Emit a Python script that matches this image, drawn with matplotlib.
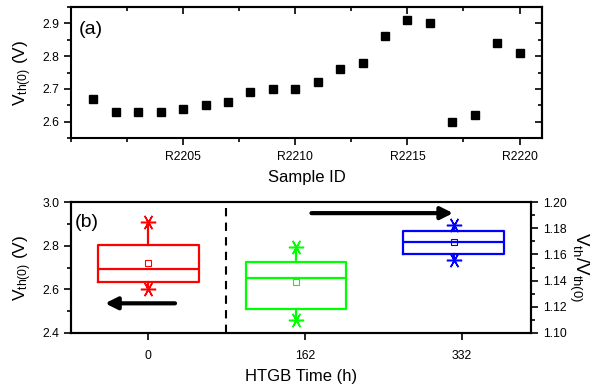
import numpy as np
import matplotlib
matplotlib.use("Agg")
import matplotlib.pyplot as plt

plt.rcParams['font.family'] = ['Liberation Sans', 'DejaVu Sans']
plt.rcParams['mathtext.fontset'] = 'custom'
plt.rcParams['mathtext.rm'] = 'Liberation Sans'
plt.rcParams['mathtext.it'] = 'Liberation Sans:italic'
plt.rcParams['axes.linewidth'] = 1.5

# ---------------- data ----------------
sample_num = [2201, 2202, 2203, 2204, 2205, 2206, 2207, 2208, 2209, 2210,
              2211, 2212, 2213, 2214, 2215, 2216, 2217, 2218, 2219, 2220]
vth0 = [2.67, 2.63, 2.63, 2.63, 2.64, 2.65, 2.66, 2.69, 2.70, 2.70,
        2.72, 2.76, 2.78, 2.86, 2.91, 2.90, 2.60, 2.62, 2.84, 2.81]
sample_ticks = [2205, 2210, 2215, 2220]
sample_labels = ['R2205', 'R2210', 'R2215', 'R2220']

htgb_labels = ['0', '162', '332']
# ratio statistics (Vth/Vth(0)) for 162 h and 332 h
ratio_q1 = [1.1187, 1.1600]
ratio_med = [1.1417, 1.1696]
ratio_q3 = [1.1544, 1.1782]
ratio_min = [1.1097, 1.1558]
ratio_max = [1.1657, 1.1826]
ratio_mean = [1.1389, 1.1694]
ratio_colors = ['#00FF00', '#0000FF']

TL = 8.8  # tick label size

fig = plt.figure(figsize=(5.92, 3.88), dpi=100)

# ---------------- panel (a) ----------------
ax = fig.add_axes([0.120, 0.644, 0.7955, 0.338])
ax.plot(sample_num, vth0, 's', color='black', markersize=5.5)
ax.set_xlim(2200, 2221)
ax.set_ylim(2.55, 2.95)
ax.set_xticks(sample_ticks)
ax.set_xticklabels(sample_labels)
ax.set_xticks(np.arange(2200, 2221, 2.5), minor=True)
ax.set_yticks([2.6, 2.7, 2.8, 2.9])
ax.set_yticks(np.arange(2.55, 2.951, 0.05), minor=True)
ax.tick_params(which='both', direction='out', labelsize=TL, width=1.2)
ax.tick_params(which='major', length=5)
ax.tick_params(which='minor', length=3)
ax.tick_params(axis='x', pad=4)
ax.set_xlabel('Sample ID', fontsize=12, labelpad=5)
ax.set_ylabel(r'V$_{\mathrm{th(0)}}$ (V)', fontsize=12.5, labelpad=6)
ax.text(0.017, 0.83, '(a)', transform=ax.transAxes, fontsize=14, va='center')
# mirrored inward ticks on top / right
axt = ax.secondary_xaxis('top')
axt.set_xticks(sample_ticks)
axt.set_xticks(np.arange(2200, 2221, 2.5), minor=True)
axt.tick_params(which='both', direction='in', labeltop=False, width=1.2)
axt.tick_params(which='major', length=5)
axt.tick_params(which='minor', length=3)
axr = ax.secondary_yaxis('right')
axr.set_yticks([2.6, 2.7, 2.8, 2.9])
axr.set_yticks(np.arange(2.55, 2.951, 0.05), minor=True)
axr.tick_params(which='both', direction='in', labelright=False, width=1.2)
axr.tick_params(which='major', length=5)
axr.tick_params(which='minor', length=3)

# ---------------- panel (b) ----------------
bx = fig.add_axes([0.120, 0.1418, 0.777, 0.3372])
bx2 = bx.twinx()
bx.set_xlim(0.507, 3.44)
bx.set_ylim(2.4, 3.0)
bx2.set_ylim(1.10, 1.20)

box_w = 0.64
star = (6, 2, 90)

# red box from the sample data (left axis)
q1, med, q3 = np.percentile(vth0, [25, 50, 75], method='weibull')
red_stats = [dict(q1=q1, med=med, q3=q3, whislo=min(vth0), whishi=max(vth0),
                  mean=np.mean(vth0), fliers=[])]
pos_red = 1.0
bx.bxp(red_stats, positions=[pos_red], widths=box_w, showcaps=False,
       showmeans=False, manage_ticks=False,
       boxprops=dict(color='#FF0000', lw=1.6),
       medianprops=dict(color='#FF0000', lw=1.6),
       whiskerprops=dict(color='#FF0000', lw=1.6))
bx.plot([pos_red, pos_red], [min(vth0), max(vth0)], ls='none', marker=star,
        ms=11, mew=1.1, color='#FF0000')
bx.plot([pos_red], [np.mean(vth0)], marker='s', ms=5, mfc='none',
        mec='#FF0000', mew=0.8)

ratio_pos = [1.943, 2.946]
for i in range(2):
    c = ratio_colors[i]
    st = [dict(q1=ratio_q1[i], med=ratio_med[i], q3=ratio_q3[i],
               whislo=ratio_min[i], whishi=ratio_max[i], fliers=[])]
    bx2.bxp(st, positions=[ratio_pos[i]], widths=box_w, showcaps=False,
            manage_ticks=False,
            boxprops=dict(color=c, lw=1.6),
            medianprops=dict(color=c, lw=1.6),
            whiskerprops=dict(color=c, lw=1.6))
    bx2.plot([ratio_pos[i], ratio_pos[i]], [ratio_min[i], ratio_max[i]],
             ls='none', marker=star, ms=11, mew=1.1, color=c)
    bx2.plot([ratio_pos[i]], [ratio_mean[i]], marker='s', ms=5, mfc='none',
             mec=c, mew=0.8)

bx.axvline(1.494, color='black', lw=1.5, dashes=(4, 3))

bx.annotate('', xy=(0.724, 2.536), xytext=(1.17, 2.536),
            arrowprops=dict(arrowstyle='-|>', lw=3, color='black',
                            mutation_scale=18, shrinkA=0, shrinkB=0))
bx2.annotate('', xy=(2.943, 1.1916), xytext=(2.04, 1.1916),
             arrowprops=dict(arrowstyle='-|>', lw=3, color='black',
                             mutation_scale=18, shrinkA=0, shrinkB=0))

bx.set_xticks([1, 2, 3])
bx.set_xticklabels(htgb_labels)
bx.set_yticks([2.4, 2.6, 2.8, 3.0])
bx.set_yticks(np.arange(2.4, 3.001, 0.1), minor=True)
bx.tick_params(which='both', direction='out', labelsize=TL, width=1.2)
bx.tick_params(which='major', length=5)
bx.tick_params(which='minor', length=3)
bx.tick_params(axis='x', pad=7)
bx.yaxis.set_major_formatter(matplotlib.ticker.FormatStrFormatter('%.1f'))
bx.set_xlabel('HTGB Time (h)', fontsize=12, labelpad=5)
bx.set_ylabel(r'V$_{\mathrm{th(0)}}$ (V)', fontsize=12.5, labelpad=6)
bx.text(0.009, 0.847, '(b)', transform=bx.transAxes, fontsize=14, va='center')

bx2.set_yticks([1.10, 1.12, 1.14, 1.16, 1.18, 1.20])
bx2.set_yticks(np.arange(1.10, 1.2001, 0.01), minor=True)
bx2.yaxis.set_major_formatter(matplotlib.ticker.FormatStrFormatter('%.2f'))
bx2.tick_params(which='both', direction='out', labelsize=TL, width=1.2)
bx2.tick_params(which='major', length=5)
bx2.tick_params(which='minor', length=3)
bx2.set_ylabel(r'V$_{\mathrm{th}}$/V$_{\mathrm{th(0)}}$', fontsize=13.5,
               rotation=270, labelpad=17)

fig.savefig('out.png', dpi=100)
